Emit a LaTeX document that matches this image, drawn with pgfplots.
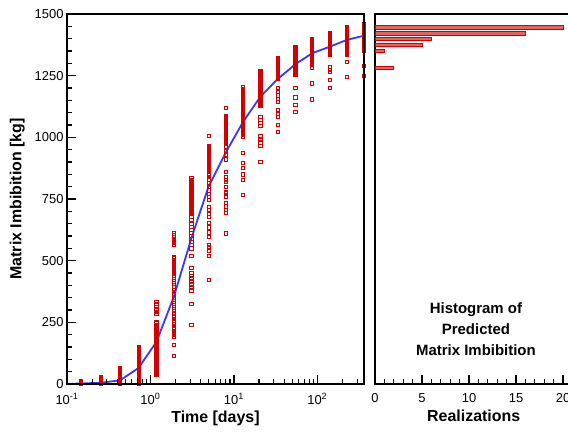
\documentclass[border=0pt]{standalone}
\usepackage{pgfplots}
\usepackage{pgfplotstable}
\usepackage{fontspec}
\setmainfont{Liberation Sans}
\pgfplotsset{compat=1.18}
\definecolor{myred}{RGB}{210,0,0}
\definecolor{barfill}{RGB}{235,95,95}
\definecolor{myblue}{RGB}{55,55,255}

% each row: time [days], then the 50 realizations (sorted)
\pgfplotstableread[header=false]{
0.147 0 0 0 0 0 1 1 1 1 1 1 2 2 2 2 2 2 3 3 3 3 3 3 4 4 4 4 4 5 5 5 5 5 6 6 6 6 7 7 7 7 8 8 8 9 9 10 10 11 12
0.257 1 1 2 2 3 3 4 4 5 5 6 6 7 7 8 8 9 9 10 10 11 11 12 12 13 13 14 14 15 15 16 16 17 17 18 18 19 19 20 20 21 21 22 23 24 24 25 26 27 27
0.434 2 3 4 5 6 8 9 10 11 12 14 15 16 17 18 20 21 22 23 25 26 27 28 30 31 32 34 35 36 38 39 40 41 43 44 45 47 48 49 50 52 53 54 56 57 58 60 61 62 64
0.72 3 6 9 12 15 18 21 24 27 30 33 36 39 42 45 48 51 54 57 60 63 66 69 72 75 78 81 84 87 90 93 96 99 102 105 108 111 114 117 120 123 126 129 132 135 138 141 144 147 151
1.18 36 41 46 51 56 61 66 71 76 81 86 91 96 101 106 111 116 121 126 131 136 141 146 151 156 161 166 171 176 181 186 191 196 201 206 211 216 221 226 231 236 241 246 251 283 293 303 313 324 334
1.91 115 158 192 200 208 217 226 235 245 255 264 273 287 295 303 311 319 327 335 343 351 359 367 375 383 394 408 416 424 432 440 448 450 456 464 470 472 480 488 496 504 510 516 563 571 579 587 595 603 611
3.09 240 324 380 392 404 416 428 440 452 470 519 550 563 575 588 600 613 625 638 650 664 678 692 696 700 704 708 712 716 720 724 728 732 736 740 744 748 752 756 760 764 772 780 788 796 804 812 820 827 835
4.97 422 519 540 557 563 596 615 635 653 678 690 705 719 746 759 770 785 800 815 830 840 850 860 868 870 874 878 882 886 890 894 898 902 906 910 914 918 922 926 930 934 938 942 946 950 954 958 962 966 1005
8.1 611 693 705 720 734 759 774 780 800 820 827 840 861 911 930 945 962 977 980 984 987 991 994 998 1001 1005 1008 1012 1015 1019 1022 1026 1029 1033 1036 1040 1043 1047 1050 1054 1057 1061 1064 1068 1071 1075 1078 1082 1086 1118
12.9 766 827 850 875 895 936 1001 1009 1016 1020 1025 1029 1034 1038 1043 1047 1052 1056 1061 1065 1070 1074 1079 1083 1088 1092 1097 1101 1106 1110 1115 1119 1124 1128 1133 1137 1142 1146 1151 1155 1160 1164 1169 1173 1178 1182 1187 1192 1197 1203
20.8 901 966 980 990 1005 1046 1060 1070 1084 1127 1131 1134 1138 1141 1145 1148 1152 1155 1159 1163 1166 1170 1173 1177 1180 1184 1187 1191 1194 1198 1202 1205 1209 1212 1216 1219 1223 1226 1230 1234 1237 1241 1244 1248 1251 1255 1258 1262 1265 1269
33.4 1023 1050 1084 1095 1111 1144 1155 1170 1185 1200 1239 1241 1243 1245 1247 1249 1251 1253 1255 1257 1259 1261 1263 1266 1268 1270 1272 1274 1276 1278 1280 1282 1284 1286 1288 1290 1292 1294 1296 1298 1300 1302 1304 1306 1308 1310 1312 1314 1317 1320
54.5 1104 1131 1162 1199 1253 1255 1258 1260 1263 1265 1268 1270 1273 1275 1278 1280 1282 1285 1287 1290 1292 1295 1297 1300 1302 1304 1307 1309 1312 1314 1317 1319 1322 1324 1326 1329 1331 1334 1336 1339 1341 1344 1346 1348 1351 1353 1356 1358 1361 1365
86.9 1154 1219 1282 1300 1302 1304 1306 1308 1310 1313 1315 1317 1319 1321 1323 1325 1327 1329 1332 1334 1336 1338 1340 1342 1344 1346 1348 1350 1353 1355 1357 1359 1361 1363 1365 1367 1369 1371 1374 1376 1378 1380 1382 1384 1386 1388 1390 1392 1395 1397
140 1201 1232 1266 1275 1286 1334 1336 1338 1340 1342 1344 1346 1348 1350 1352 1354 1356 1358 1360 1362 1364 1366 1368 1370 1372 1374 1376 1378 1380 1382 1384 1386 1388 1390 1392 1394 1396 1398 1400 1402 1404 1406 1408 1410 1412 1414 1416 1418 1420 1422
226 1246 1307 1334 1336 1339 1341 1344 1346 1348 1351 1353 1355 1358 1360 1363 1365 1367 1370 1372 1374 1377 1379 1382 1384 1386 1389 1391 1393 1396 1398 1401 1403 1405 1408 1410 1412 1415 1417 1420 1422 1424 1427 1429 1431 1434 1436 1439 1441 1443 1446
363 1250 1290 1352 1365 1370 1375 1380 1385 1389 1393 1397 1401 1405 1409 1411 1413 1414 1416 1417 1419 1420 1422 1423 1425 1426 1428 1429 1431 1432 1434 1436 1437 1438 1439 1440 1441 1442 1443 1444 1445 1446 1447 1448 1449 1450 1451 1452 1454 1456 1458
}\realz

\pgfplotsset{
  mystyle/.style={
    scale only axis,
    anchor=south west,
    axis line style={line width=1.6bp, black},
    tick align=inside,
    major tick length=9bp,
    minor tick length=5bp,
    major tick style={draw=black, line width=1.4bp},
    minor tick style={draw=black, line width=1.1bp},
    tick label style={font=\fontsize{13}{15}\selectfont},
    xticklabel style={yshift=-6bp},
    label style={font=\bfseries\fontsize{16}{19}\selectfont},
    /pgf/number format/assume math mode=true,
    /pgf/number format/1000 sep={},
  },
}

\begin{document}
\begin{tikzpicture}
\useasboundingbox (0,0) rectangle (568bp,433bp);
% data layer of the left panel
\begin{axis}[xmode=log, mystyle,
  at={(67bp,49bp)}, width=297bp, height=370bp,
  xmin=0.1, xmax=363, ymin=0, ymax=1500,
  hide axis]
\pgfplotsinvokeforeach{1,...,50}{
  \addplot[only marks, mark=square, mark size=1.6bp, myred, mark options={line width=0.7bp}]
    table[x index=0, y index=#1] {\realz};
}
\addplot[myblue, line width=1.8bp, no marks] coordinates {
(0.1,0.5) (0.147,2) (0.257,5) (0.434,15) (0.72,65) (1.18,171) (1.91,354) (3.09,590) (4.97,800)
(8.1,942) (12.9,1063) (20.8,1165) (33.4,1236) (54.5,1296) (86.9,1341) (140,1367) (226,1395) (363,1412)
};
\end{axis}
% frame, ticks and labels of the left panel
\begin{axis}[xmode=log, mystyle,
  at={(67bp,49bp)}, width=297bp, height=370bp,
  xmin=0.1, xmax=363, ymin=0, ymax=1500,
  xtick={0.1,1,10,100},
  xticklabels={10\textsuperscript{-1},10\textsuperscript{0},10\textsuperscript{1},10\textsuperscript{2}},
  minor xtick={0.2,0.3,0.4,0.5,0.6,0.7,0.8,0.9,2,3,4,5,6,7,8,9,20,30,40,50,60,70,80,90,200,300},
  ytick={0,250,500,750,1000,1250,1500},
  minor ytick={50,100,150,200,300,350,400,450,550,600,650,700,800,850,900,950,1050,1100,1150,1200,1300,1350,1400,1450},
  xtick pos=left, ytick pos=left,
  xlabel={Time [days]}, ylabel={Matrix Imbibition [kg]},
  ylabel style={yshift=3bp},
]
\end{axis}

\begin{axis}[mystyle,
  at={(375bp,49bp)}, width=197.4bp, height=370bp,
  xmin=0, xmax=21, ymin=0, ymax=1500,
  xbar, bar width=14,
  ytick=\empty,
  xtick={0,5,10,15,20},
  minor xtick={1,2,3,4,6,7,8,9,11,12,13,14,16,17,18,19,21},
  xtick pos=left,
  xlabel={Realizations},
]
\addplot[draw=myred, fill=barfill, line width=0.8bp] coordinates {
(20,1446) (16,1421) (6,1398) (5,1375) (1,1351) (2,1282)
};
\node[align=center, font=\bfseries\fontsize{15}{21}\selectfont] at (axis cs:10.74,223)
  {Histogram of\\Predicted\\Matrix Imbibition};
\end{axis}
\end{tikzpicture}
\end{document}
